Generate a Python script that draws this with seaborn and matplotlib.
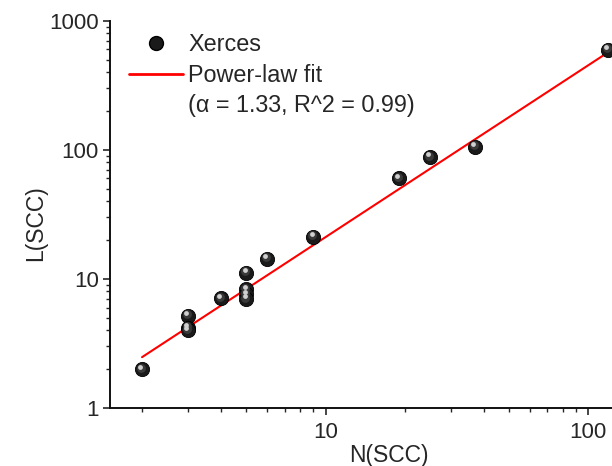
import numpy as np
import pandas as pd
import matplotlib
matplotlib.use("Agg")
import matplotlib.pyplot as plt
import matplotlib.ticker as mticker
import matplotlib.transforms as mtransforms
from matplotlib.lines import Line2D
import seaborn as sns

# data
n_scc = [2, 3, 3, 3, 4, 5, 5, 5, 5, 6, 9, 19, 25, 37, 119]
l_scc = [2.0, 5.2, 4.2, 4.0, 7.05, 11.2, 8.3, 7.6, 7.0, 14.3, 21.2, 60, 88, 106, 595]

# power-law fit shown in the chart
fit_alpha = 1.33
fit_coef = 0.985
fit_range = [2, 120]

df = pd.DataFrame({"N": n_scc, "L": l_scc})
fit_x = np.array(fit_range, dtype=float)
fit_df = pd.DataFrame({"N": fit_x, "L": fit_coef * fit_x ** fit_alpha})

sns.set_style("ticks")
plt.rcParams["font.family"] = ["Liberation Sans", "DejaVu Sans"]

fig = plt.figure(figsize=(6.12, 4.66), dpi=100)
# axes runs a bit past the right edge like the cropped original
ax = fig.add_axes([110 / 612, 58 / 466, 557 / 612, (408 - 20.7) / 466])

ax.set_xscale("log")
ax.set_yscale("log")

sns.lineplot(data=fit_df, x="N", y="L", color="#ff0000", lw=1.5, ax=ax, zorder=2)

# shaded "sphere" markers: dark ball plus a small highlight
sns.scatterplot(data=df, x="N", y="L", s=105, color="#1a1a1a", edgecolor="#000000",
                linewidth=0.6, ax=ax, zorder=3)
mid = mtransforms.offset_copy(ax.transData, fig=fig, x=-0.8, y=1.0, units="points")
ax.scatter(df["N"], df["L"], s=40, color="#3a3a3a", linewidths=0, transform=mid, zorder=4)
hl = mtransforms.offset_copy(ax.transData, fig=fig, x=-1.3, y=1.8, units="points")
ax.scatter(df["N"], df["L"], s=12, color="#d0d0d0", linewidths=0, transform=hl, zorder=5)

ax.set_xlim(1.51, 200)
ax.set_ylim(1, 1000)

fmt = mticker.FuncFormatter(lambda v, p: "%g" % v)
ax.xaxis.set_major_formatter(fmt)
ax.yaxis.set_major_formatter(fmt)
ax.xaxis.set_minor_formatter(mticker.NullFormatter())
ax.yaxis.set_minor_formatter(mticker.NullFormatter())
ax.xaxis.set_minor_locator(mticker.LogLocator(base=10, subs=np.arange(2, 10)))
ax.yaxis.set_minor_locator(mticker.LogLocator(base=10, subs=np.arange(2, 10)))

ax.tick_params(axis="both", which="major", direction="out", length=5, width=1.2,
               labelsize=16, pad=3)
ax.tick_params(axis="x", which="major", pad=5)
ax.tick_params(axis="both", which="minor", direction="out", length=3, width=1.0)

for side in ["top", "right"]:
    ax.spines[side].set_visible(False)
for side in ["left", "bottom"]:
    ax.spines[side].set_linewidth(1.4)
    ax.spines[side].set_color("#111111")

ax.set_xlabel("N(SCC)", fontsize=16.5, labelpad=1)
ax.set_ylabel("L(SCC)", fontsize=16.5)
ax.yaxis.set_label_coords(-0.112, 0.478)

# legend: marker, fit line, and the fit parameters line
handles = [
    Line2D([], [], marker="o", ls="none", markersize=10, markerfacecolor="#1a1a1a",
           markeredgecolor="#000000"),
    Line2D([], [], color="#ff0000", lw=2),
    Line2D([], [], ls="none"),
]
labels = ["Xerces", "Power-law fit", "(\u03b1 = 1.33, R^2 = 0.99)"]
ax.legend(handles, labels, loc="upper left", bbox_to_anchor=(129 / 612, 1 - 33 / 466),
          bbox_transform=fig.transFigure, frameon=False, fontsize=16.8, borderpad=0,
          borderaxespad=0, handlelength=2.3, handletextpad=0.25, labelspacing=0.33)

fig.savefig("out.png", dpi=100)
